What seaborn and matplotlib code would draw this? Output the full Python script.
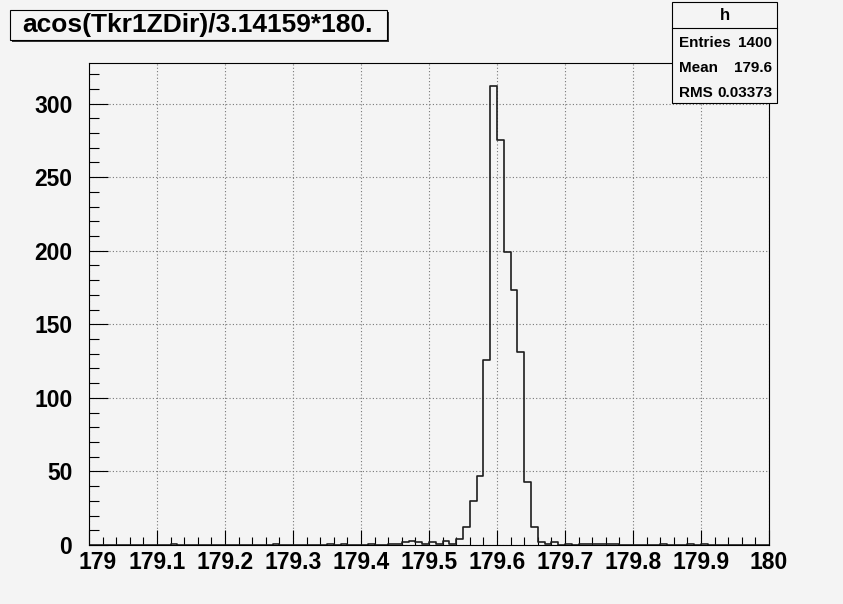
import numpy as np
import matplotlib
matplotlib.use('Agg')
import matplotlib.pyplot as plt
import matplotlib.transforms as mtransforms
import seaborn as sns
from matplotlib.patches import Rectangle
from matplotlib.lines import Line2D
from matplotlib.ticker import MultipleLocator

# histogram "h": 100 bins between 179 and 180
bin_low = 179.0
bin_high = 180.0
n_bins = 100
counts = [
    0, 0, 0, 0, 0, 0, 0, 0, 0, 0,
    0, 0, 1, 0, 0, 0, 0, 0, 0, 0,
    0, 0, 0, 0, 0, 0, 0, 1, 0, 0,
    0, 0, 0, 0, 0, 1, 0, 1, 0, 0,
    0, 1, 0, 0, 1, 1, 2, 3, 2, 1,
    2, 1, 3, 1, 4, 12, 30, 47, 126, 312,
    275, 199, 173, 131, 43, 12, 2, 1, 2, 0,
    1, 0, 1, 1, 1, 1, 1, 1, 0, 0,
    0, 0, 0, 0, 1, 0, 0, 0, 1, 0,
    1, 0, 0, 0, 0, 0, 0, 0, 0, 0,
]
x_ticks = [179, 179.1, 179.2, 179.3, 179.4, 179.5, 179.6, 179.7, 179.8, 179.9, 180]
title = 'acos(Tkr1ZDir)/3.14159*180.'
stats_name = 'h'
stats_labels = ['Entries', 'Mean', 'RMS']
stats_values = ['1400', '179.6', '0.03373']

bw = (bin_high - bin_low) / n_bins
centers = bin_low + bw * (np.arange(n_bins) + 0.5)

bg = '#f4f4f4'
plt.rcParams['font.family'] = ['Liberation Sans', 'DejaVu Sans']
plt.rcParams['font.weight'] = 'bold'

W, H = 843, 604
fig = plt.figure(figsize=(W / 100, H / 100), dpi=100, facecolor=bg)

# axes frame in pixel terms: x 89..769, y 63..545
ax = fig.add_axes([89 / W, (H - 545) / H, 680 / W, (545 - 63) / H])
ax.set_facecolor(bg)

sns.histplot(x=centers, weights=counts, bins=n_bins, binrange=(bin_low, bin_high),
             element='step', fill=False, color='#1e1e1e', linewidth=1.2, ax=ax)

ax.set_xlabel('')
ax.set_ylabel('')

ax.set_xticks(x_ticks)
# first label is drawn separately, nudged right like ROOT does
ax.set_xticklabels([''] + [f'{v:g}' for v in x_ticks[1:]])
ax.xaxis.set_minor_locator(MultipleLocator(0.02))
ax.yaxis.set_major_locator(MultipleLocator(50))
ax.yaxis.set_minor_locator(MultipleLocator(10))
ax.set_xlim(bin_low, bin_high)
ax.set_ylim(0, max(counts) * 1.05)

ax.tick_params(axis='x', which='major', direction='in', length=11, width=0.8,
               labelsize=16.5, pad=4)
ax.tick_params(axis='x', which='minor', direction='in', length=5.5, width=0.8)
ax.tick_params(axis='y', which='major', direction='in', length=14, width=0.8,
               labelsize=16.5, pad=12)
ax.tick_params(axis='y', which='minor', direction='in', length=7, width=0.8)

ax.text(x_ticks[0], 0, f'{x_ticks[0]:g}', fontsize=16.5, fontweight='bold', ha='center', va='top',
        transform=ax.get_xaxis_transform() +
        mtransforms.ScaledTranslation(9 / 100, -4 / 72, fig.dpi_scale_trans),
        clip_on=False)

ax.grid(True, which='major', linestyle=(0, (1, 2)), color='#777777', linewidth=0.8)
ax.set_axisbelow(True)
for s in ax.spines.values():
    s.set_color('black')
    s.set_linewidth(0.8)


def px_box(x0, y0, x1, y1, shadow=2):
    # box given in pixels from the top-left corner, with a ROOT-like shadow
    sh = Rectangle((x0 / W + shadow / W, 1 - (y1 + shadow) / H), (x1 - x0) / W, (y1 - y0) / H,
                   transform=fig.transFigure, facecolor='#333333', edgecolor='none', zorder=5)
    bx = Rectangle((x0 / W, 1 - y1 / H), (x1 - x0) / W, (y1 - y0) / H,
                   transform=fig.transFigure, facecolor=bg, edgecolor='black',
                   linewidth=0.8, zorder=6)
    fig.patches.extend([sh, bx])


# title box
px_box(10, 10, 387, 40)
fig.text(22 / W, 1 - 25 / H, title, fontsize=19, fontweight='bold',
         ha='left', va='center', zorder=7)

# stats box
px_box(672, 2, 777, 103, shadow=1)
fig.lines.append(Line2D([672 / W, 777 / W], [1 - 28 / H, 1 - 28 / H],
                        transform=fig.transFigure, color='black', linewidth=0.8, zorder=7))
fig.text(724.5 / W, 1 - 15 / H, stats_name, fontsize=12, fontweight='bold',
         ha='center', va='center', zorder=7)
for i, (lab, val) in enumerate(zip(stats_labels, stats_values)):
    yy = 1 - (43 + 25 * i) / H
    fig.text(679 / W, yy, lab, fontsize=11, fontweight='bold', ha='left', va='center', zorder=7)
    fig.text(772 / W, yy, val, fontsize=11, fontweight='bold', ha='right', va='center', zorder=7)

fig.savefig('out.png', dpi=100, facecolor=bg)
